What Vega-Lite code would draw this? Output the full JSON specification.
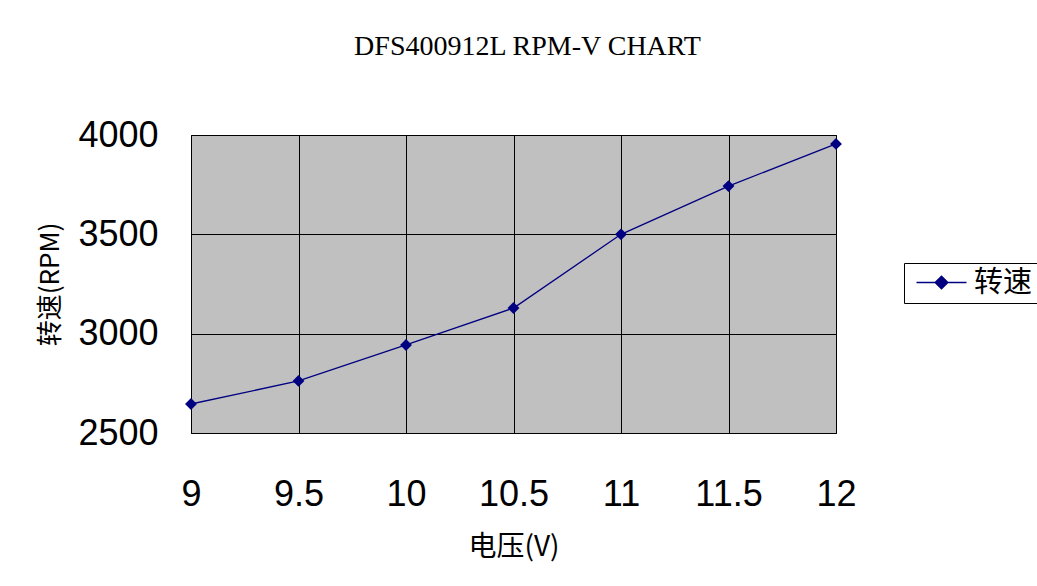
{
  "$schema": "https://vega.github.io/schema/vega-lite/v6.json",
  "width": 645,
  "height": 298,
  "autosize": {"type": "none"},
  "padding": {"left": 191, "top": 135, "right": 201, "bottom": 153},
  "background": "white",
  "title": {
    "text": "DFS400912L  RPM-V CHART",
    "font": "Liberation Serif",
    "fontSize": 28,
    "fontWeight": "normal",
    "color": "#000000",
    "anchor": "middle",
    "dx": 14,
    "offset": 28,
    "baseline": "bottom"
  },
  "data": {
    "values": [
      {"voltage": 9, "rpm": 2646, "series": "转速"},
      {"voltage": 9.5, "rpm": 2762, "series": "转速"},
      {"voltage": 10, "rpm": 2943, "series": "转速"},
      {"voltage": 10.5, "rpm": 3129, "series": "转速"},
      {"voltage": 11, "rpm": 3500, "series": "转速"},
      {"voltage": 11.5, "rpm": 3743, "series": "转速"},
      {"voltage": 12, "rpm": 3955, "series": "转速"}
    ]
  },
  "encoding": {
    "x": {
      "field": "voltage",
      "type": "quantitative",
      "scale": {"domain": [9, 12], "nice": false, "zero": false},
      "axis": {
        "title": "电压(V)",
        "values": [9, 9.5, 10, 10.5, 11, 11.5, 12],
        "format": "~g",
        "labelFont": "Liberation Sans",
        "labelFontSize": 36,
        "labelColor": "#000000",
        "labelPadding": 44,
        "labelBaseline": "top",
        "labelAlign": "center",
        "labelFlush": false,
        "labelOverlap": false,
        "tickSize": 0,
        "domain": false,
        "grid": true,
        "gridColor": "#000000",
        "gridWidth": 1,
        "gridOpacity": 1,
        "titleFont": "Noto Sans CJK SC",
        "titleFontSize": 28,
        "titleFontWeight": "normal",
        "titleColor": "#000000",
        "titleY": 114,
        "titleBaseline": "middle"
      }
    },
    "y": {
      "field": "rpm",
      "type": "quantitative",
      "scale": {"domain": [2500, 4000], "nice": false, "zero": false},
      "axis": {
        "title": "转速(RPM)",
        "values": [2500, 3000, 3500, 4000],
        "format": "d",
        "labelFont": "Liberation Sans",
        "labelFontSize": 36,
        "labelColor": "#000000",
        "labelPadding": 33,
        "labelFlush": false,
        "labelOverlap": false,
        "tickSize": 0,
        "domain": false,
        "grid": true,
        "gridColor": "#000000",
        "gridWidth": 1,
        "gridOpacity": 1,
        "titleFont": "Noto Sans CJK SC",
        "titleFontSize": 26,
        "titleFontWeight": "normal",
        "titleColor": "#000000",
        "titleX": -141,
        "titleY": 149,
        "titleBaseline": "middle"
      }
    },
    "color": {
      "field": "series",
      "type": "nominal",
      "scale": {"range": ["#000080"]},
      "legend": {
        "title": null,
        "orient": "none",
        "legendX": 713,
        "legendY": 128,
        "strokeColor": "#000000",
        "fillColor": "#ffffff",
        "padding": 5,
        "symbolType": "M-2,0H2M0,-0.5L0.5,0L0,0.5L-0.5,0Z",
        "symbolSize": 625,
        "symbolStrokeWidth": 1.5,
        "symbolFillColor": "#000080",
        "symbolStrokeColor": "#000080",
        "symbolOffset": 18,
        "labelFont": "Noto Sans CJK SC",
        "labelFontSize": 29,
        "labelColor": "#000000",
        "labelOffset": 18
      }
    }
  },
  "layer": [
    {"mark": {"type": "line", "strokeWidth": 1.3}},
    {"mark": {"type": "point", "shape": "diamond", "filled": true, "size": 140, "opacity": 1}}
  ],
  "config": {
    "view": {"fill": "#C0C0C0", "stroke": "#000000", "strokeWidth": 1}
  }
}
